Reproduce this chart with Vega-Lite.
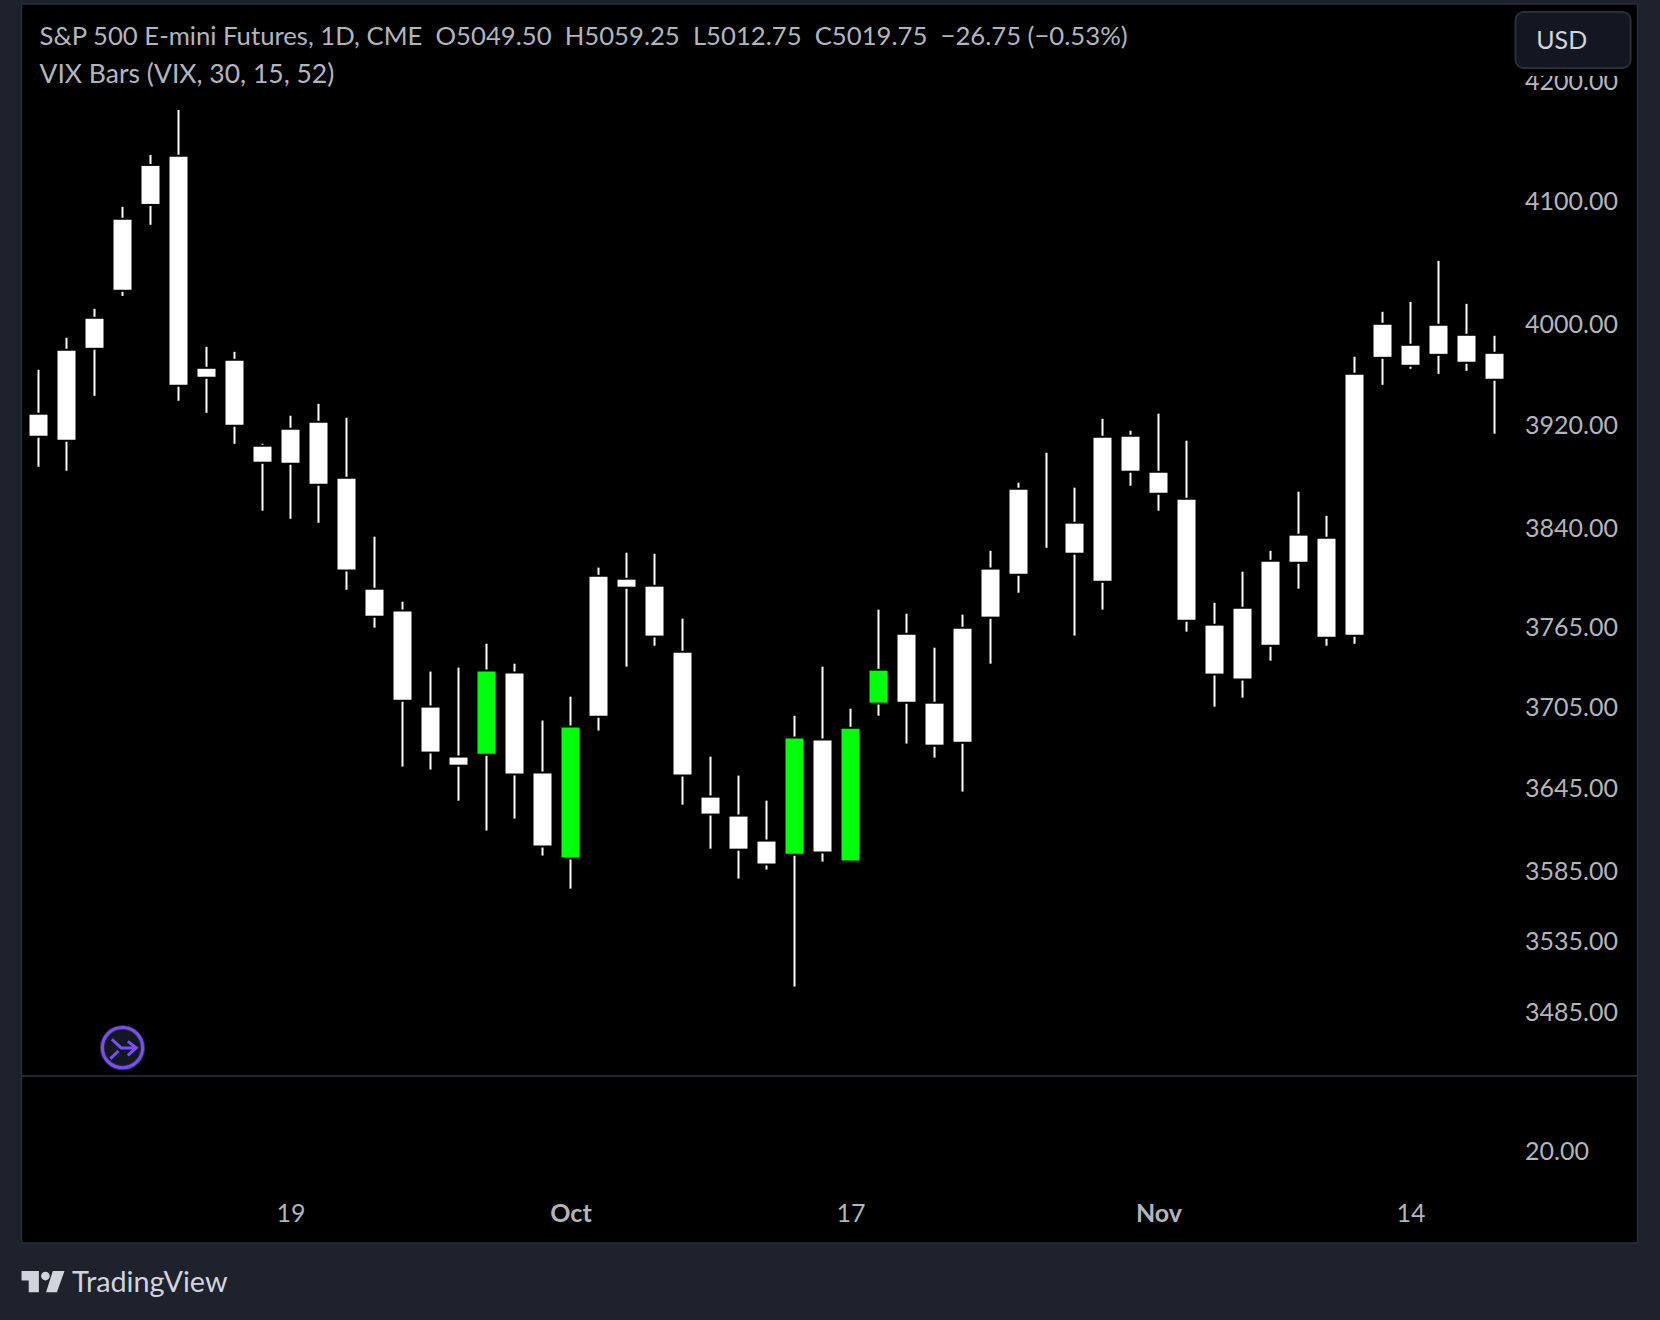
{
  "$schema": "https://vega.github.io/schema/vega-lite/v6.json",
  "background": "#1e222d",
  "padding": {"left": 20.5, "top": 3, "right": 23.5, "bottom": 1},
  "spacing": 0,
  "bounds": "flush",
  "config": {
    "view": {"fill": "#000000", "stroke": "#2a2e39", "strokeWidth": 1.5},
    "font": "Lato",
    "axis": {"domain": false, "grid": false, "ticks": false, "title": null, "labelFont": "Lato", "labelFontSize": 25, "labelColor": "#b2b5be"}
  },
  "datasets": {
    "bars": [
      {"date": "2022-09-06", "i": 0, "high": 3963.6, "top": 3928.1, "bottom": 3911.6, "low": 3887.4, "vix": "normal"},
      {"date": "2022-09-07", "i": 1, "high": 3989.1, "top": 3978.7, "bottom": 3908.4, "low": 3884.3, "vix": "normal"},
      {"date": "2022-09-08", "i": 2, "high": 4012.3, "top": 4004.3, "bottom": 3981.1, "low": 3943.0, "vix": "normal"},
      {"date": "2022-09-09", "i": 3, "high": 4095.1, "top": 4084.5, "bottom": 4027.6, "low": 4022.7, "vix": "normal"},
      {"date": "2022-09-12", "i": 4, "high": 4137.9, "top": 4128.8, "bottom": 4097.5, "low": 4080.4, "vix": "normal"},
      {"date": "2022-09-13", "i": 5, "high": 4175.4, "top": 4136.3, "bottom": 3951.7, "low": 3939.1, "vix": "normal"},
      {"date": "2022-09-14", "i": 6, "high": 3981.9, "top": 3964.4, "bottom": 3958.1, "low": 3929.6, "vix": "normal"},
      {"date": "2022-09-15", "i": 7, "high": 3977.9, "top": 3970.8, "bottom": 3920.2, "low": 3905.3, "vix": "normal"},
      {"date": "2022-09-16", "i": 8, "high": 3905.3, "top": 3903.0, "bottom": 3891.3, "low": 3853.3, "vix": "normal"},
      {"date": "2022-09-19", "i": 9, "high": 3927.3, "top": 3916.3, "bottom": 3890.5, "low": 3847.1, "vix": "normal"},
      {"date": "2022-09-20", "i": 10, "high": 3936.7, "top": 3921.8, "bottom": 3874.2, "low": 3844.0, "vix": "normal"},
      {"date": "2022-09-21", "i": 11, "high": 3925.7, "top": 3878.1, "bottom": 3808.1, "low": 3792.8, "vix": "normal"},
      {"date": "2022-09-22", "i": 12, "high": 3833.3, "top": 3792.8, "bottom": 3773.1, "low": 3764.1, "vix": "normal"},
      {"date": "2022-09-23", "i": 13, "high": 3783.7, "top": 3776.2, "bottom": 3710.2, "low": 3660.8, "vix": "normal"},
      {"date": "2022-09-26", "i": 14, "high": 3731.1, "top": 3704.3, "bottom": 3671.8, "low": 3658.6, "vix": "normal"},
      {"date": "2022-09-27", "i": 15, "high": 3734.1, "top": 3667.4, "bottom": 3662.2, "low": 3635.9, "vix": "normal"},
      {"date": "2022-09-28", "i": 16, "high": 3752.0, "top": 3731.1, "bottom": 3670.3, "low": 3614.2, "vix": "spike"},
      {"date": "2022-09-29", "i": 17, "high": 3737.0, "top": 3729.6, "bottom": 3655.7, "low": 3622.9, "vix": "normal"},
      {"date": "2022-09-30", "i": 18, "high": 3694.7, "top": 3655.7, "bottom": 3603.3, "low": 3596.1, "vix": "normal"},
      {"date": "2022-10-03", "i": 19, "high": 3712.4, "top": 3689.5, "bottom": 3594.7, "low": 3572.4, "vix": "spike"},
      {"date": "2022-10-04", "i": 20, "high": 3809.6, "top": 3802.7, "bottom": 3698.3, "low": 3687.3, "vix": "normal"},
      {"date": "2022-10-05", "i": 21, "high": 3821.0, "top": 3800.4, "bottom": 3795.1, "low": 3734.8, "vix": "normal"},
      {"date": "2022-10-06", "i": 22, "high": 3820.2, "top": 3795.1, "bottom": 3758.1, "low": 3750.5, "vix": "normal"},
      {"date": "2022-10-07", "i": 23, "high": 3770.9, "top": 3745.3, "bottom": 3654.9, "low": 3633.0, "vix": "normal"},
      {"date": "2022-10-10", "i": 24, "high": 3668.1, "top": 3638.1, "bottom": 3626.5, "low": 3601.1, "vix": "normal"},
      {"date": "2022-10-11", "i": 25, "high": 3654.2, "top": 3624.3, "bottom": 3601.1, "low": 3579.6, "vix": "normal"},
      {"date": "2022-10-12", "i": 26, "high": 3635.9, "top": 3606.2, "bottom": 3590.4, "low": 3586.1, "vix": "normal"},
      {"date": "2022-10-13", "i": 27, "high": 3698.3, "top": 3681.4, "bottom": 3597.5, "low": 3503.0, "vix": "spike"},
      {"date": "2022-10-14", "i": 28, "high": 3734.8, "top": 3679.9, "bottom": 3599.0, "low": 3591.8, "vix": "normal"},
      {"date": "2022-10-17", "i": 29, "high": 3703.5, "top": 3688.7, "bottom": 3592.5, "low": 3592.5, "vix": "spike"},
      {"date": "2022-10-18", "i": 30, "high": 3777.7, "top": 3731.8, "bottom": 3708.0, "low": 3698.3, "vix": "spike"},
      {"date": "2022-10-19", "i": 31, "high": 3774.6, "top": 3758.8, "bottom": 3708.7, "low": 3677.7, "vix": "normal"},
      {"date": "2022-10-20", "i": 32, "high": 3749.0, "top": 3707.2, "bottom": 3676.9, "low": 3667.4, "vix": "normal"},
      {"date": "2022-10-21", "i": 33, "high": 3773.9, "top": 3763.3, "bottom": 3679.1, "low": 3642.5, "vix": "normal"},
      {"date": "2022-10-24", "i": 34, "high": 3822.5, "top": 3808.1, "bottom": 3772.4, "low": 3737.0, "vix": "normal"},
      {"date": "2022-10-25", "i": 35, "high": 3875.0, "top": 3869.5, "bottom": 3805.0, "low": 3790.5, "vix": "normal"},
      {"date": "2022-10-26", "i": 36, "high": 3898.3, "top": null, "bottom": null, "low": 3824.8, "vix": "normal"},
      {"date": "2022-10-27", "i": 37, "high": 3871.1, "top": 3843.3, "bottom": 3821.0, "low": 3758.1, "vix": "normal"},
      {"date": "2022-10-28", "i": 38, "high": 3924.9, "top": 3910.0, "bottom": 3799.7, "low": 3777.7, "vix": "normal"},
      {"date": "2022-10-31", "i": 39, "high": 3915.5, "top": 3910.8, "bottom": 3884.3, "low": 3872.6, "vix": "normal"},
      {"date": "2022-11-01", "i": 40, "high": 3928.9, "top": 3882.7, "bottom": 3867.2, "low": 3853.3, "vix": "normal"},
      {"date": "2022-11-02", "i": 41, "high": 3907.7, "top": 3861.7, "bottom": 3770.1, "low": 3761.1, "vix": "normal"},
      {"date": "2022-11-03", "i": 42, "high": 3782.9, "top": 3765.6, "bottom": 3729.6, "low": 3705.0, "vix": "normal"},
      {"date": "2022-11-04", "i": 43, "high": 3806.5, "top": 3778.4, "bottom": 3725.9, "low": 3711.7, "vix": "normal"},
      {"date": "2022-11-07", "i": 44, "high": 3822.5, "top": 3814.1, "bottom": 3751.3, "low": 3739.3, "vix": "normal"},
      {"date": "2022-11-08", "i": 45, "high": 3868.0, "top": 3834.1, "bottom": 3814.1, "low": 3793.6, "vix": "normal"},
      {"date": "2022-11-09", "i": 46, "high": 3849.4, "top": 3831.7, "bottom": 3757.3, "low": 3750.5, "vix": "normal"},
      {"date": "2022-11-10", "i": 47, "high": 3973.9, "top": 3959.7, "bottom": 3758.8, "low": 3752.0, "vix": "normal"},
      {"date": "2022-11-11", "i": 48, "high": 4009.9, "top": 3999.5, "bottom": 3973.9, "low": 3951.7, "vix": "normal"},
      {"date": "2022-11-14", "i": 49, "high": 4017.9, "top": 3982.7, "bottom": 3967.6, "low": 3964.4, "vix": "normal"},
      {"date": "2022-11-15", "i": 50, "high": 4051.0, "top": 3998.7, "bottom": 3976.3, "low": 3960.4, "vix": "normal"},
      {"date": "2022-11-16", "i": 51, "high": 4016.3, "top": 3990.7, "bottom": 3970.0, "low": 3962.8, "vix": "normal"},
      {"date": "2022-11-17", "i": 52, "high": 3990.7, "top": 3976.3, "bottom": 3956.5, "low": 3913.2, "vix": "normal"}
    ]
  },
  "vconcat": [
    {
      "width": 1616,
      "height": 1072,
      "title": {
        "text": "S&P 500 E-mini Futures, 1D, CME\u00a0\u00a0O5049.50\u00a0\u00a0H5059.25\u00a0\u00a0L5012.75\u00a0\u00a0C5019.75\u00a0\u00a0−26.75 (−0.53%)",
        "subtitle": "VIX Bars (VIX, 30, 15, 52)",
        "anchor": "start",
        "frame": "group",
        "offset": -85,
        "dx": 18,
        "font": "Lato",
        "fontSize": 25.7,
        "fontWeight": "normal",
        "color": "#b2b5be",
        "subtitleFont": "Lato",
        "subtitleFontSize": 26.5,
        "subtitleColor": "#b2b5be",
        "subtitlePadding": 11
      },
      "resolve": {"axis": {"x": "independent", "y": "independent"}},
      "layer": [
        {
          "data": {"name": "bars"},
          "mark": {"type": "rule", "color": "#ffffff", "strokeWidth": 2},
          "encoding": {
            "x": {"field": "i", "type": "quantitative", "scale": {"domain": [-0.607, 57.107], "nice": false, "zero": false, "padding": 0}, "axis": null},
            "y": {
              "field": "low",
              "type": "quantitative",
              "scale": {"type": "log", "domain": [3440.8, 4264.9], "nice": false},
              "axis": {"orient": "right", "values": [4200, 4100, 4000, 3920, 3840, 3765, 3705, 3645, 3585, 3535, 3485], "format": ".2f", "labelAlign": "left", "labelPadding": -113, "labelBaseline": "middle", "labelOffset": 0.7}
            },
            "y2": {"field": "high"}
          }
        },
        {
          "data": {"name": "bars"},
          "mark": {"type": "bar", "size": 18, "fill": "#000000", "stroke": "#000000", "strokeWidth": 4},
          "encoding": {
            "x": {"field": "i", "type": "quantitative", "axis": null},
            "y": {"field": "bottom", "type": "quantitative", "axis": null},
            "y2": {"field": "top"}
          }
        },
        {
          "data": {"name": "bars"},
          "mark": {"type": "bar", "size": 18},
          "encoding": {
            "x": {"field": "i", "type": "quantitative", "axis": null},
            "y": {"field": "bottom", "type": "quantitative", "axis": null},
            "y2": {"field": "top"},
            "color": {"field": "vix", "type": "nominal", "scale": {"domain": ["normal", "spike"], "range": ["#ffffff", "#00ff0a"]}, "legend": null}
          }
        },
        {
          "data": {"values": [{}]},
          "mark": {"type": "rect", "fill": "#000000"},
          "encoding": {
            "x": {"datum": 52.7, "type": "quantitative", "axis": null},
            "x2": {"datum": 57.05},
            "y": {"datum": 4203.9, "type": "quantitative", "axis": null},
            "y2": {"datum": 4263}
          }
        },
        {
          "data": {"values": [{}]},
          "mark": {"type": "rect", "fill": "#131722", "stroke": "#2a2e39", "strokeWidth": 2, "cornerRadius": 8},
          "encoding": {
            "x": {"datum": 52.75, "type": "quantitative", "axis": null},
            "x2": {"datum": 56.86},
            "y": {"datum": 4210.6, "type": "quantitative", "axis": null},
            "y2": {"datum": 4258.1}
          }
        },
        {
          "data": {"values": [{"label": "USD"}]},
          "mark": {"type": "text", "align": "left", "baseline": "middle", "fontSize": 25, "color": "#d1d4dc"},
          "encoding": {
            "x": {"datum": 53.49, "type": "quantitative", "axis": null},
            "y": {"datum": 4233, "type": "quantitative", "axis": null},
            "text": {"field": "label"}
          }
        },
        {
          "data": {"values": [{}]},
          "mark": {"type": "point", "shape": "circle", "size": 1620, "filled": true, "fill": "#131722", "stroke": "#2a2e39", "strokeWidth": 5, "opacity": 1},
          "encoding": {
            "x": {"datum": 3.0, "type": "quantitative", "axis": null},
            "y": {"datum": 3460.4, "type": "quantitative", "axis": null}
          }
        },
        {
          "data": {"values": [{}]},
          "mark": {"type": "point", "shape": "circle", "size": 1620, "filled": false, "stroke": "#7c4dff", "strokeWidth": 3, "opacity": 1},
          "encoding": {
            "x": {"datum": 3.0, "type": "quantitative", "axis": null},
            "y": {"datum": 3460.4, "type": "quantitative", "axis": null}
          }
        },
        {
          "data": {"values": [{}]},
          "mark": {"type": "point", "shape": "M-.76-.6L-.1.02L.98.02M.38-.45L.98.02L.38.55M-.86.79L-.29.24", "size": 784, "filled": false, "stroke": "#7c4dff", "strokeWidth": 3, "opacity": 1},
          "encoding": {
            "x": {"datum": 3.0, "type": "quantitative", "axis": null},
            "y": {"datum": 3460.4, "type": "quantitative", "axis": null}
          }
        }
      ]
    },
    {
      "width": 1616,
      "height": 167,
      "data": {"name": "bars"},
      "mark": {"type": "point", "opacity": 0},
      "encoding": {
        "x": {
          "field": "i",
          "type": "quantitative",
          "scale": {"domain": [-0.607, 57.107], "nice": false, "zero": false},
          "axis": {
            "values": [9, 19, 29, 40, 49],
            "labelExpr": "{'9': '19', '19': 'Oct', '29': '17', '40': 'Nov', '49': '14'}[datum.value]",
            "labelPadding": -30,
            "labelBaseline": "middle",
            "labelFontWeight": {"condition": {"test": "datum.value == 19 || datum.value == 40", "value": "bold"}, "value": "normal"}
          }
        },
        "y": {
          "datum": 20,
          "type": "quantitative",
          "scale": {"domain": [-1.8, 38.2], "nice": false, "zero": false},
          "axis": {"orient": "right", "values": [20], "format": ".2f", "labelAlign": "left", "labelPadding": -113, "labelBaseline": "middle"}
        }
      }
    },
    {
      "width": 1616,
      "height": 77,
      "view": {"fill": null, "stroke": null},
      "layer": [
        {
          "data": {"values": [{}]},
          "mark": {"type": "point", "filled": true, "fill": "#d1d4dc", "stroke": null, "opacity": 1, "size": 1884, "shape": "M-.98-.48L-.18-.48L-.18.49L-.65.49L-.65-.05L-.98-.05ZM-.08-.25a.2.2 0 1 0 .4 0a.2.2 0 1 0-.4 0ZM.46-.48L1-.48L.65.49L.15.49Z"},
          "encoding": {
            "x": {"datum": 0.154, "type": "quantitative", "scale": {"domain": [-0.607, 57.107], "nice": false, "zero": false}, "axis": null},
            "y": {"datum": 0.5, "type": "quantitative", "scale": {"domain": [0, 1], "nice": false}, "axis": null}
          }
        },
        {
          "data": {"values": [{"label": "TradingView"}]},
          "mark": {"type": "text", "align": "left", "baseline": "alphabetic", "fontSize": 28.8, "color": "#d1d4dc"},
          "encoding": {
            "x": {"datum": 1.2, "type": "quantitative", "axis": null},
            "y": {"datum": 0.364, "type": "quantitative", "axis": null},
            "text": {"field": "label"}
          }
        }
      ]
    }
  ]
}
